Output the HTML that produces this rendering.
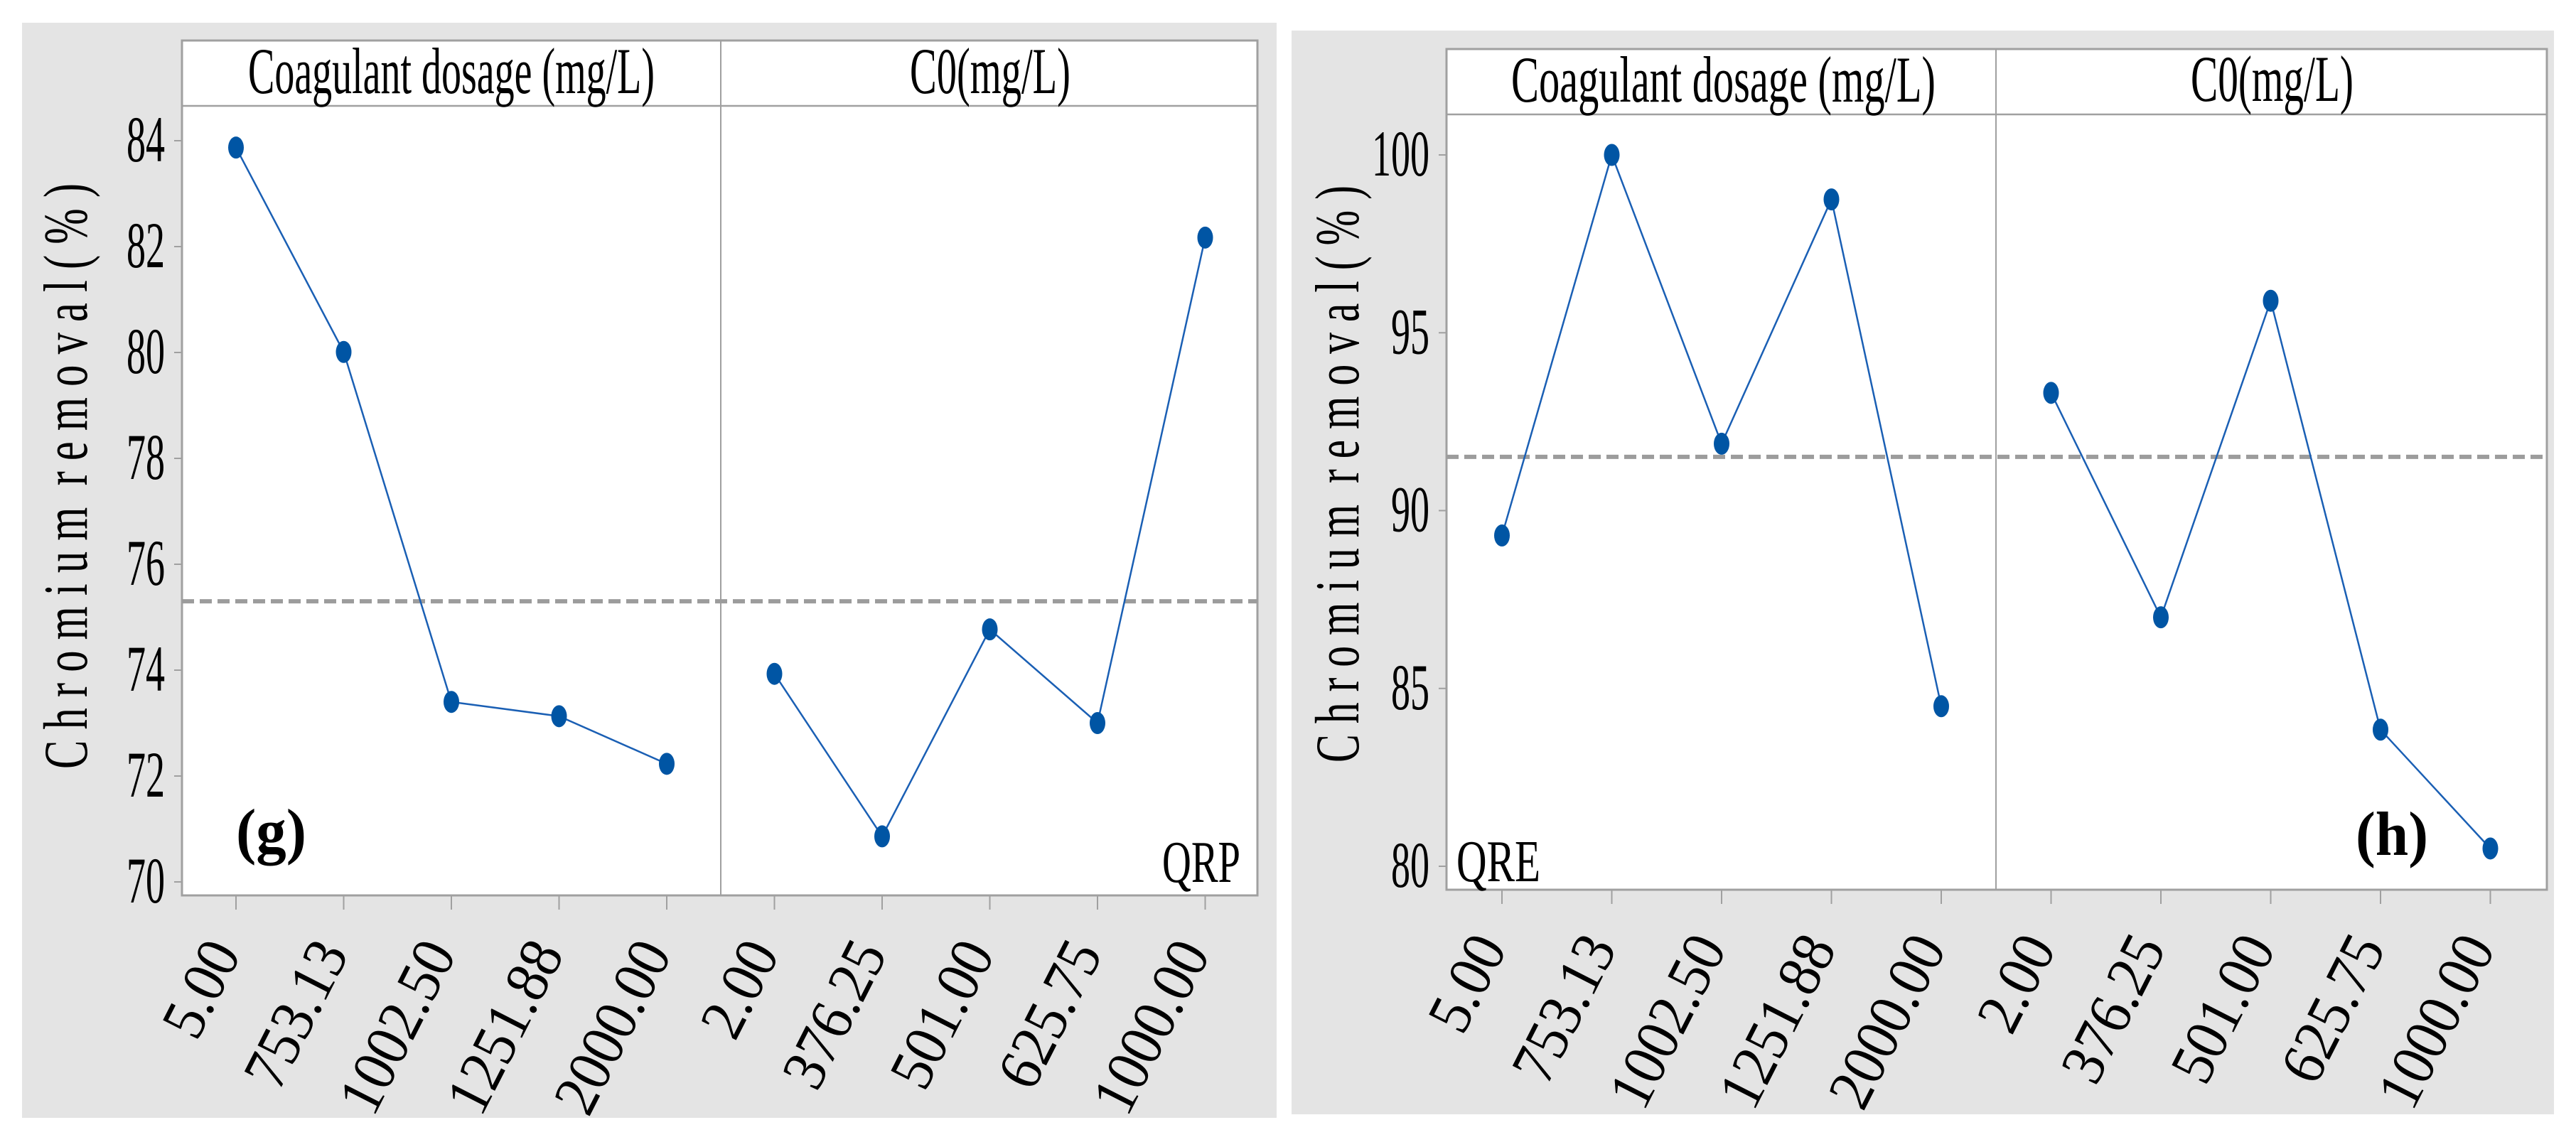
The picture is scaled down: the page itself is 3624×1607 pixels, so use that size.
<!DOCTYPE html>
<html><head><meta charset="utf-8"><style>
html,body{margin:0;padding:0;background:#fff;}
svg{display:block;}
text{font-family:"Liberation Serif","Times New Roman",serif;fill:#000;white-space:pre;}
</style></head><body>
<svg id="fig" width="3624" height="1607" viewBox="0 0 3624 1607" xmlns="http://www.w3.org/2000/svg" xml:space="preserve"></svg>
<script>
const categoriesDose = ["5.00","753.13","1002.50","1251.88","2000.00"];
const categoriesC0 = ["2.00","376.25","501.00","625.75","1000.00"];
const valuesG_dose = [83.87, 80.01, 73.40, 73.13, 72.23];
const valuesG_c0 = [73.93, 70.86, 74.77, 73.00, 82.17];
const meanG = 75.30;
const ticksG = [70,72,74,76,78,80,82,84];
const valuesH_dose = [89.30, 100.0, 91.88, 98.75, 84.50];
const valuesH_c0 = [93.31, 87.00, 95.90, 83.84, 80.50];
const meanH = 91.51;
const ticksH = [80,85,90,95,100];

const NS="http://www.w3.org/2000/svg";
const svg=document.getElementById('fig');
function mk(tag,attrs,parent){const e=document.createElementNS(NS,tag);for(const k in attrs)e.setAttribute(k,attrs[k]);(parent||svg).appendChild(e);return e;}
function lenOf(s){let l=0;for(const c of s)l+=(c==='.'?20:40);return l;}

function panel(cfg){
  const g=mk('g',{});
  
  
  const bg=mk('rect',{x:cfg.bx0,y:cfg.by0,width:cfg.bx1-cfg.bx0,height:cfg.by1-cfg.by0,fill:'#e4e4e4'},g);
  
  
  const pl=mk('rect',{x:cfg.px0,y:cfg.py0,width:cfg.px1-cfg.px0,height:cfg.py1-cfg.py0,fill:'#fff',stroke:'#a0a0a0','stroke-width':3},g);
  
  
  const hl=mk('line',{x1:cfg.px0,x2:cfg.px1,y1:cfg.hy,y2:cfg.hy,stroke:'#a0a0a0','stroke-width':2.5},g);
  
  
  const dv=mk('line',{x1:cfg.div,x2:cfg.div,y1:cfg.py0,y2:cfg.py1,stroke:'#a0a0a0','stroke-width':2},g);
  
  
  const h1=mk('text',{x:cfg.h1x,y:cfg.h1y,'font-size':92,textLength:cfg.h1w,lengthAdjust:'spacingAndGlyphs'},g);
  h1.textContent='Coagulant dosage (mg/L)';
  
  
  const h2=mk('text',{x:cfg.h2x,y:cfg.h2y,'font-size':92,textLength:cfg.h2w,lengthAdjust:'spacingAndGlyphs'},g);
  h2.textContent='C0(mg/L)';
  
  
  const yOf=v=>cfg.yA+(v-cfg.vA)*(cfg.yB-cfg.yA)/(cfg.vB-cfg.vA);
  const xOf=i=>cfg.tx0+i*cfg.tdx;
  cfg.ticks.forEach(t=>{
    const y=yOf(t);
    const tk=mk('line',{x1:cfg.px0-11,x2:cfg.px0,y1:y,y2:y,stroke:'#a0a0a0','stroke-width':2},g);
    
    
    const s=String(t);
    const tl=mk('text',{x:cfg.px0-24,y:y+29,'font-size':92,'text-anchor':'end',textLength:s.length*27,lengthAdjust:'spacingAndGlyphs'},g);
    tl.textContent=s;
    
    
  });
  const yt=mk('text',{x:0,y:0,'font-size':88,'text-anchor':'middle',textLength:cfg.ytLen,lengthAdjust:'spacingAndGlyphs',transform:`translate(${cfg.ytx},${cfg.ytc}) rotate(-90)`},g);
  yt.textContent='C h r o m i u m  r e m o v a l ( % )';
  
  
  const cats=categoriesDose.concat(categoriesC0);
  cats.forEach((c,i)=>{
    const x=xOf(i);
    const tk=mk('line',{x1:x,x2:x,y1:cfg.py1,y2:cfg.py1+20,stroke:'#a0a0a0','stroke-width':2},g);
    
    
    const tl=mk('text',{x:0,y:0,'font-size':86,'text-anchor':'end',textLength:lenOf(c),lengthAdjust:'spacingAndGlyphs',transform:`translate(${x+8},${cfg.py1+82}) rotate(-63)`},g);
    tl.textContent=c;
    
    
  });
  const my=yOf(cfg.mean);
  const ml=mk('line',{x1:cfg.px0,x2:cfg.px1,y1:my,y2:my,stroke:'#9c9c9c','stroke-width':6,'stroke-dasharray':'17 8'},g);
  
  
  [[cfg.s1,0,'series-coagulant-dosage'],[cfg.s2,5,'series-c0']].forEach(([vals,off,nm])=>{
    const pts=vals.map((v,i)=>xOf(i+off)+','+yOf(v)).join(' ');
    const pl=mk('polyline',{points:pts,fill:'none',stroke:'#1a5fb4','stroke-width':2.5},g);
    
    
    vals.forEach((v,i)=>{
      const e=mk('ellipse',{cx:xOf(i+off),cy:yOf(v),rx:11,ry:15.5,fill:'#0055a4'},g);
      
      
    });
  });
  cfg.notes.forEach(n=>{
    const t=mk('text',{x:n.x,y:n.y,'font-size':n.fs,'font-weight':n.bold?'bold':'normal',textLength:n.w,lengthAdjust:'spacingAndGlyphs'},g);
    t.textContent=n.t;
    
    
  });
}

panel({name:'panel-g',bx0:31,by0:32,bx1:1796,by1:1573,px0:256,py0:57,px1:1769,py1:1260,hy:149,div:1014,
  h1x:349,h1y:131,h1w:572,h2x:1280,h2y:131,h2w:226,
  vA:84,yA:198,vB:70,yB:1241,ticks:ticksG,tx0:332,tdx:151.5,
  ytx:122,ytc:670,ytLen:824,mean:meanG,s1:valuesG_dose,s2:valuesG_c0,
  notes:[{t:'(g)',x:332,y:1199,fs:88,bold:true,w:99,name:'panel-label-g'},{t:'QRP',x:1635,y:1241,fs:84,w:110,name:'model-label-qrp'}]});

panel({name:'panel-h',bx0:1817,by0:43,bx1:3593,by1:1568,px0:2035,py0:69,px1:3583,py1:1252,hy:161,div:2808,
  h1x:2126,h1y:143,h1w:597,h2x:3082,h2y:142,h2w:229,
  vA:100,yA:218,vB:80,yB:1219,ticks:ticksH,tx0:2113,tdx:154.5,
  ytx:1911,ytc:667,ytLen:812,mean:meanH,s1:valuesH_dose,s2:valuesH_c0,
  notes:[{t:'(h)',x:3314,y:1203,fs:88,bold:true,w:102,name:'panel-label-h'},{t:'QRE',x:2049,y:1240,fs:84,w:118,name:'model-label-qre'}]});
</script>
</body></html>
